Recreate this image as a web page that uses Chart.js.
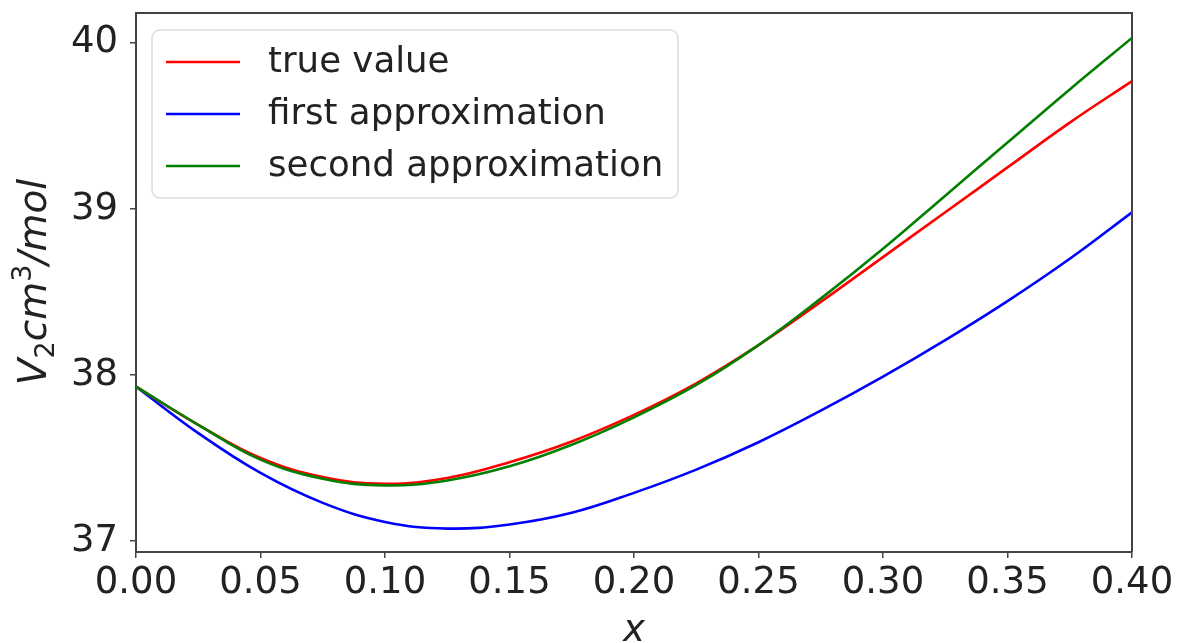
<!DOCTYPE html>
<html>
<head>
<meta charset="utf-8">
<script src="https://cdn.jsdelivr.net/npm/chart.js@4.4.1/dist/chart.umd.min.js"></script>
<style>
html, body { margin: 0; padding: 0; background: #fff; }
#wrap { width: 1181px; height: 643px; position: relative; }
</style>
</head>
<body>
<div id="wrap"><canvas id="molarChart" width="1181" height="643"></canvas></div>
<script>
// mole fraction x
var xValues = [0, 0.025, 0.05, 0.075, 0.1, 0.125, 0.15, 0.175, 0.2, 0.225, 0.25, 0.275, 0.3, 0.325, 0.35, 0.375, 0.4];
// partial molar volume V2, cm3/mol
var trueValue    = [37.93, 37.70, 37.50, 37.385, 37.345, 37.38, 37.475, 37.60, 37.76, 37.95, 38.18, 38.44, 38.71, 38.98, 39.25, 39.52, 39.77];
var firstApprox  = [37.93, 37.65, 37.41, 37.23, 37.115, 37.075, 37.10, 37.17, 37.29, 37.43, 37.595, 37.785, 37.99, 38.21, 38.445, 38.70, 38.98];
var secondApprox = [37.93, 37.70, 37.49, 37.375, 37.335, 37.365, 37.45, 37.58, 37.745, 37.94, 38.18, 38.46, 38.76, 39.08, 39.40, 39.72, 40.03];

var seriesNames = ["true value", "first approximation", "second approximation"];
var seriesColors = ["#ff0000", "#0000ff", "#008000"];

var xTicks = [0, 0.05, 0.1, 0.15, 0.2, 0.25, 0.3, 0.35, 0.4];
var yTicks = [37, 38, 39, 40];

var FONT = "'DejaVu Sans', sans-serif";
var AXIS = "#444";

function points(ys) {
  var out = [];
  for (var i = 0; i < xValues.length; i++) out.push({x: xValues[i], y: ys[i]});
  return out;
}

function makeSet(idx, ys, order) {
  return {
    label: seriesNames[idx],
    data: points(ys),
    borderColor: seriesColors[idx],
    backgroundColor: seriesColors[idx],
    borderWidth: 2.6,
    pointRadius: 0,
    fill: false,
    tension: 0.4,
    order: order
  };
}

// legend box, top/right spines and axis titles drawn by hand
var extras = {
  id: "extras",
  afterDraw: function(chart) {
    var ctx = chart.ctx;
    var a = chart.chartArea;
    ctx.save();

    // top + right spines
    ctx.strokeStyle = AXIS;
    ctx.lineWidth = 2;
    ctx.beginPath();
    ctx.moveTo(a.left, a.top);
    ctx.lineTo(a.right, a.top);
    ctx.lineTo(a.right, a.bottom);
    ctx.stroke();

    // legend
    var bx = 152, by = 30, bw = 526, bh = 168, r = 8;
    ctx.beginPath();
    ctx.moveTo(bx + r, by);
    ctx.arcTo(bx + bw, by, bx + bw, by + bh, r);
    ctx.arcTo(bx + bw, by + bh, bx, by + bh, r);
    ctx.arcTo(bx, by + bh, bx, by, r);
    ctx.arcTo(bx, by, bx + bw, by, r);
    ctx.closePath();
    ctx.fillStyle = "rgba(255,255,255,0.8)";
    ctx.fill();
    ctx.strokeStyle = "#dcdcdc";
    ctx.lineWidth = 1.5;
    ctx.stroke();

    ctx.font = "35.6px " + FONT;
    ctx.textBaseline = "middle";
    ctx.textAlign = "left";
    for (var i = 0; i < seriesNames.length; i++) {
      var ly = 62 + i * 52;
      ctx.strokeStyle = seriesColors[i];
      ctx.lineWidth = 2.6;
      ctx.beginPath();
      ctx.moveTo(166, ly);
      ctx.lineTo(240, ly);
      ctx.stroke();
      ctx.fillStyle = "#222";
      ctx.fillText(seriesNames[i], 268, ly + 1);
    }

    // x title
    ctx.font = "italic 37px " + FONT;
    ctx.textAlign = "center";
    ctx.textBaseline = "alphabetic";
    ctx.fillText("x", 634, 641);

    // y title: V_2 cm^3/mol
    var big = "italic 39px " + FONT, small = "27px " + FONT;
    var parts = [
      {t: "V", f: big, dy: 0},
      {t: "2", f: small, dy: 8},
      {t: "cm", f: big, dy: 0},
      {t: "3", f: small, dy: -15},
      {t: "/mol", f: big, dy: 0}
    ];
    var total = 0;
    parts.forEach(function(p) { ctx.font = p.f; p.w = ctx.measureText(p.t).width; total += p.w; });
    ctx.translate(33, 282);
    ctx.rotate(-Math.PI / 2);
    ctx.textAlign = "left";
    var cx = -total / 2;
    parts.forEach(function(p) {
      ctx.font = p.f;
      ctx.fillText(p.t, cx, 13 + p.dy);
      cx += p.w;
    });
    ctx.restore();
  }
};

var ctx = document.getElementById("molarChart").getContext("2d");
var chart = new Chart(ctx, {
  type: "line",
  data: {
    datasets: [
      makeSet(0, trueValue, 0),
      makeSet(1, firstApprox, 0),
      makeSet(2, secondApprox, -1)
    ]
  },
  options: {
    responsive: false,
    animation: false,
    layout: { padding: { top: 13, right: 49, left: 0, bottom: 0 } },
    plugins: { legend: { display: false }, tooltip: { enabled: false } },
    scales: {
      x: {
        type: "linear",
        min: 0,
        max: 0.4,
        afterBuildTicks: function(scale) { scale.ticks = xTicks.map(function(v) { return {value: v}; }); },
        afterFit: function(scale) { scale.height = 91; scale.paddingLeft = 0; scale.paddingRight = 0; },
        ticks: {
          font: { family: FONT, size: 37 },
          color: "#222",
          padding: 3,
          maxRotation: 0,
          autoSkip: false,
          callback: function(v) { return Number(v).toFixed(2); }
        },
        grid: { drawOnChartArea: false, drawTicks: true, tickLength: 6, color: AXIS, lineWidth: 1.5 },
        border: { display: true, color: AXIS, width: 2 }
      },
      y: {
        type: "linear",
        min: 36.934,
        max: 40.18,
        afterBuildTicks: function(scale) { scale.ticks = yTicks.map(function(v) { return {value: v}; }); },
        // labels sit well inside the range, no extra room needed above/below
        afterFit: function(scale) { scale.width = 136; scale.paddingTop = 0; scale.paddingBottom = 0; },
        ticks: {
          font: { family: FONT, size: 37 },
          color: "#222",
          padding: 12,
          autoSkip: false,
          callback: function(v) { return String(v); }
        },
        grid: { drawOnChartArea: false, drawTicks: true, tickLength: 6, color: AXIS, lineWidth: 1.5 },
        border: { display: true, color: AXIS, width: 2 }
      }
    }
  },
  plugins: [extras]
});
</script>
</body>
</html>
